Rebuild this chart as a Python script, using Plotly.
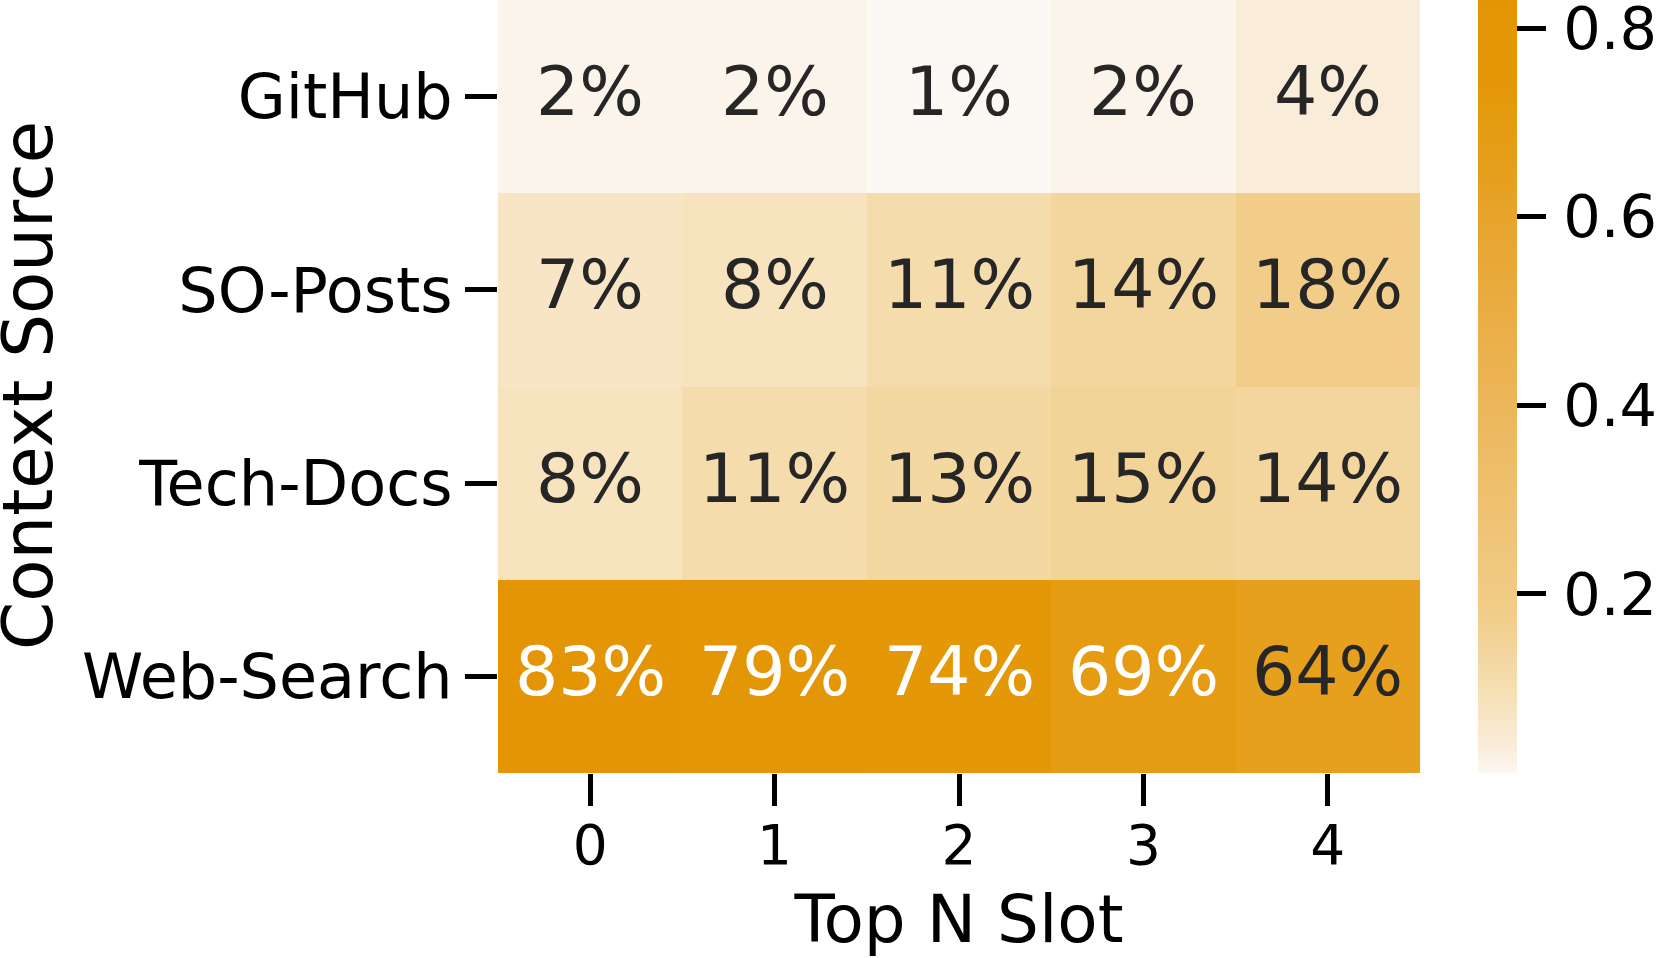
import plotly.graph_objects as go

# share of each context source per top-N slot
slots = ["0", "1", "2", "3", "4"]
sources = ["GitHub", "SO-Posts", "Tech-Docs", "Web-Search"]
github = [0.02, 0.02, 0.01, 0.02, 0.04]
so_posts = [0.07, 0.08, 0.11, 0.14, 0.18]
tech_docs = [0.08, 0.11, 0.13, 0.15, 0.14]
web_search = [0.83, 0.79, 0.74, 0.69, 0.64]
cbar_ticks = [0.2, 0.4, 0.6, 0.8]

z = [github, so_posts, tech_docs, web_search]

FONT = "DejaVu Sans"

orange_scale = [
    [0.0, "#FCF8F3"],
    [0.037, "#F9ECD9"],
    [0.085, "#F8E3BF"],
    [0.122, "#F4DCAC"],
    [0.207, "#F1CD89"],
    [0.476, "#ECB65A"],
    [0.72, "#E7A42B"],
    [0.768, "#E6A01E"],
    [0.829, "#E59C12"],
    [0.89, "#E49808"],
    [1.0, "#E39505"],
]

zmin = min(min(r) for r in z)
zmax = max(max(r) for r in z)

heat = go.Heatmap(
    z=z,
    x=slots,
    y=sources,
    colorscale=orange_scale,
    zmin=zmin,
    zmax=zmax,
    hoverinfo="skip",
    colorbar=dict(
        x=1478 / 1661, xanchor="left", xref="paper",
        y=1, yanchor="top", yref="paper",
        len=773 / 958, lenmode="fraction",
        thickness=39, thicknessmode="pixels",
        outlinewidth=0,
        xpad=0, ypad=0,
        ticks="outside", ticklen=29, tickwidth=5, tickcolor="black",
        tickvals=cbar_ticks,
        ticktext=["\u200a" + f"{v:.1f}" for v in cbar_ticks],
        ticklabeloverflow="allow",
        tickfont=dict(family=FONT, size=59, color="black"),
    ),
)

annotations = []
for row, name in zip(z, sources):
    for slot, v in zip(slots, row):
        annotations.append(dict(
            x=slot, y=name, xref="x", yref="y",
            text=f"{v * 100:.0f}%",
            showarrow=False,
            yshift=5,
            font=dict(family=FONT, size=68,
                      color="white" if v >= 0.66 else "#262626"),
        ))

# y title as rotated text so it can sit right at the left edge
annotations.append(dict(
    x=28 / 1661, y=1 - 386 / 958, xref="paper", yref="paper",
    xanchor="center", yanchor="middle",
    text="Context Source", textangle=-90, showarrow=False,
    font=dict(family=FONT, size=69, color="black"),
))

layout = go.Layout(
    width=1661,
    height=958,
    margin=dict(l=0, r=0, t=0, b=0, pad=0),
    paper_bgcolor="white",
    plot_bgcolor="white",
    font=dict(family=FONT, color="black"),
    annotations=annotations,
    xaxis=dict(
        domain=[498 / 1661, 1420 / 1661],
        type="category",
        ticks="outside", ticklen=32, tickwidth=5, tickcolor="black",
        tickfont=dict(family=FONT, size=55, color="black"),
        ticklabelstandoff=-8,
        showgrid=False, zeroline=False, showline=False,
        automargin=False,
        title=dict(text="Top N Slot", font=dict(family=FONT, size=66, color="black"),
                   standoff=28),
    ),
    yaxis=dict(
        domain=[1 - 773 / 958, 1],
        type="category",
        autorange="reversed",
        ticks="outside", ticklen=32, tickwidth=5, tickcolor="black",
        tickfont=dict(family=FONT, size=62, color="black"),
        ticklabelstandoff=0,
        showgrid=False, zeroline=False, showline=False,
        automargin=False,
    ),
)

fig = go.Figure(data=[heat], layout=layout)
fig.write_html("out.html", config={"displayModeBar": False},
               post_script="document.body.style.margin='0';")
